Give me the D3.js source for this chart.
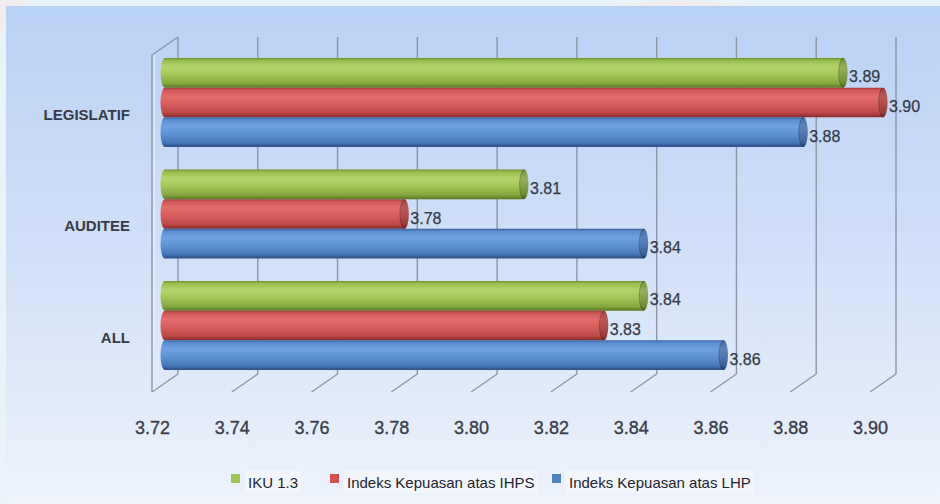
<!DOCTYPE html>
<html>
<head>
<meta charset="utf-8">
<script src="https://cdn.jsdelivr.net/npm/d3@7"></script>
<style>
  html, body { margin: 0; padding: 0; background: #e9f4fa; }
  svg { display: block; }
</style>
</head>
<body>
<svg id="chart" width="940" height="504"></svg>
<script>
// ---- data ----
const categories = ["LEGISLATIF", "AUDITEE", "ALL"];
const seriesNames = ["IKU 1.3", "Indeks Kepuasan atas IHPS", "Indeks Kepuasan atas LHP"];
const ikuValues  = [3.89, 3.81, 3.84];
const ihpsValues = [3.90, 3.78, 3.83];
const lhpValues  = [3.88, 3.84, 3.86];
const tickValues = [3.72, 3.74, 3.76, 3.78, 3.80, 3.82, 3.84, 3.86, 3.88, 3.90];

const seriesValues = [ikuValues, ihpsValues, lhpValues];

// ---- look ----
const palette = {
  "IKU 1.3": {
    body: ["#6f8f2f", "#97bd4f", "#b4d56c", "#a4c859", "#86a940", "#5a7824"],
    key: "#9dc35a"
  },
  "Indeks Kepuasan atas IHPS": {
    body: ["#a03c3c", "#cf5755", "#e26e6b", "#d65f5d", "#bb4948", "#872a2b"],
    key: "#d2504f"
  },
  "Indeks Kepuasan atas LHP": {
    body: ["#3a62a0", "#5b8dd0", "#70a1e1", "#5f92d4", "#4777b9", "#2b4e85"],
    key: "#4f81bd"
  }
};
const bodyOffsets = [0, 0.08, 0.3, 0.55, 0.85, 1];
const font = "'Liberation Sans', Arial, sans-serif";

const W = 940, H = 504;
const svg = d3.select("#chart");
const defs = svg.append("defs");

// panel background gradient
const bg = defs.append("linearGradient").attr("id", "panelGrad")
  .attr("x1", 0).attr("y1", 0).attr("x2", 0).attr("y2", 1);
bg.append("stop").attr("offset", 0).attr("stop-color", "#b9d1f5");
bg.append("stop").attr("offset", 0.5).attr("stop-color", "#d1e0f7");
bg.append("stop").attr("offset", 1).attr("stop-color", "#eef3fc");

seriesNames.forEach((s, i) => {
  const g = defs.append("linearGradient").attr("id", "bar" + i)
    .attr("x1", 0).attr("y1", 0).attr("x2", 0).attr("y2", 1);
  palette[s].body.forEach((c, k) => {
    g.append("stop").attr("offset", bodyOffsets[k]).attr("stop-color", c);
  });
});

// outer frame and panel
svg.append("rect").attr("width", W).attr("height", H).attr("fill", "#e9f4fa");
svg.append("path").attr("d", "M0,0 L26,0 L0,36 Z").attr("fill", "#f2eeef");
svg.append("path").attr("d", "M612,6 Q680,-4 748,6 Z").attr("fill", "#f1edef");
svg.append("rect").attr("x", 6).attr("y", 6).attr("width", W - 6).attr("height", H - 6)
  .attr("fill", "url(#panelGrad)");

// ---- scales ----
const depthX = 26, depthY = 18;
const frontTop = 55, frontBottom = 392;
const backTop = frontTop - depthY, backBottom = frontBottom - depthY;

const x = d3.scaleLinear().domain([tickValues[0], tickValues[tickValues.length - 1]]).range([152, 870]);
const y = d3.scaleBand().domain(categories).range([46.75, 381.25])
  .paddingInner(0.2018).paddingOuter(0.1009);
const ySeries = d3.scaleBand().domain(seriesNames).range([0, y.bandwidth()]);

const gridColor = "#8c96a4";

// back wall gridlines and floor lines
const grid = svg.append("g").attr("fill", "none").attr("stroke", gridColor).attr("stroke-width", 1.4);
grid.selectAll("line.back").data(tickValues).join("line").attr("class", "back")
  .attr("x1", d => x(d) + depthX).attr("x2", d => x(d) + depthX)
  .attr("y1", backTop).attr("y2", backBottom);
grid.selectAll("line.floor").data(tickValues).join("line").attr("class", "floor")
  .attr("x1", d => x(d) + depthX).attr("y1", backBottom)
  .attr("x2", d => x(d)).attr("y2", frontBottom);

// left side wall
const x0 = x.domain()[0];
grid.append("path")
  .attr("d", `M${x(x0) + depthX},${backTop} L${x(x0)},${frontTop} L${x(x0)},${frontBottom}`);
grid.append("line")
  .attr("x1", x(x0) + 2).attr("x2", x(x0) + 2).attr("y1", frontTop).attr("y2", frontBottom - 2)
  .attr("stroke", "#e4eefb").attr("stroke-width", 1.5);

// ---- bars (cylinders) ----
const rx = 4.5;
const fmt = d3.format(".2f");
const barData = [];
categories.forEach((cat, ci) => {
  seriesNames.forEach((s, si) => {
    barData.push({ cat, series: s, si, value: seriesValues[si][ci] });
  });
});

const bars = svg.append("g").selectAll("g.bar").data(barData).join("g").attr("class", "bar");
bars.each(function(d) {
  const g = d3.select(this);
  const top = y(d.cat) + ySeries(d.series);
  const h = ySeries.bandwidth();
  const ry = h / 2;
  const xa = x(x0) + depthX / 2;
  const xb = x(d.value) + depthX / 2;
  g.append("path")
    .attr("d", `M${xa},${top} L${xb},${top} L${xb},${top + h} L${xa},${top + h} A${rx},${ry} 0 0 1 ${xa},${top} Z`)
    .attr("fill", `url(#bar${d.si})`);
  // end cap
  g.append("ellipse")
    .attr("cx", xb).attr("cy", top + ry).attr("rx", rx).attr("ry", ry)
    .attr("fill", `url(#bar${d.si})`);
  g.append("ellipse")
    .attr("cx", xb).attr("cy", top + ry).attr("rx", rx).attr("ry", ry)
    .attr("fill", "#000").attr("fill-opacity", 0.18);
  g.append("path")
    .attr("d", `M${xb},${top + 1} A${rx},${ry - 1} 0 0 0 ${xb},${top + h - 1}`)
    .attr("fill", "none").attr("stroke", "#000").attr("stroke-opacity", 0.2).attr("stroke-width", 1);
  // value label
  g.append("text")
    .attr("x", xb + rx + 1.5).attr("y", top + ry + 9.5)
    .attr("font-family", font)
    .attr("font-size", 16).attr("fill", "#363c48")
    .attr("stroke", "#363c48").attr("stroke-width", 0.25)
    .text(fmt(d.value));
});

// ---- category labels ----
svg.append("g").selectAll("text").data(categories).join("text")
  .attr("x", 130).attr("y", d => y(d) + y.bandwidth() / 2 + 17)
  .attr("text-anchor", "end")
  .attr("font-family", font)
  .attr("font-weight", "bold").attr("font-size", 15).attr("fill", "#363b47")
  .text(d => d);

// ---- value axis ----
const axis = d3.axisBottom(x).tickValues(tickValues).tickFormat(fmt).tickSize(0).tickPadding(29);
const axisG = svg.append("g").attr("transform", `translate(0,${frontBottom})`).call(axis);
axisG.select(".domain").remove();
axisG.selectAll("text")
  .attr("font-family", font)
  .attr("font-size", 18).attr("fill", "#383d49")
  .attr("stroke", "#383d49").attr("stroke-width", 0.35);

// ---- legend ----
const legendX = [231, 330, 552];
const legend = svg.append("g").selectAll("g").data(seriesNames).join("g")
  .attr("transform", (d, i) => `translate(${legendX[i]},0)`);
legend.append("text")
  .attr("x", 17).attr("y", 488)
  .attr("font-family", font)
  .attr("font-size", 15).attr("fill", "#1e2430")
  .text(d => d);
legend.insert("rect", "text")
  .attr("x", 14).attr("y", 471)
  .attr("width", function() { return this.parentNode.querySelector("text").getComputedTextLength() + 6; })
  .attr("height", 22)
  .attr("fill", "#ffffff").attr("fill-opacity", 0.4);
legend.append("rect")
  .attr("x", 0).attr("y", 474).attr("width", 9).attr("height", 9)
  .attr("fill", d => palette[d].key);
</script>
</body>
</html>
